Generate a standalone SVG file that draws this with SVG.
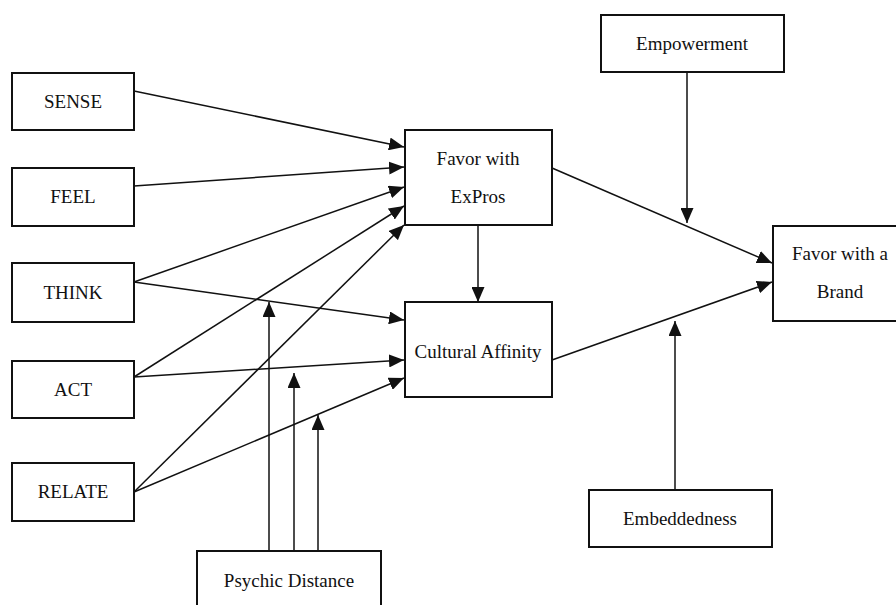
<svg xmlns="http://www.w3.org/2000/svg" width="896" height="605" viewBox="0 0 896 605">
<style>
.box{fill:#fff;stroke:#111;stroke-width:2}
.lbl{font-family:'Liberation Serif','DejaVu Serif',serif;font-size:19px;fill:#111;text-anchor:middle}
.con line{stroke:#111;stroke-width:1.5;fill:none}
.arr{marker-end:url(#ah)}
</style>
<defs>
<marker id="ah" markerUnits="userSpaceOnUse" markerWidth="15" markerHeight="13" refX="15" refY="6.5" orient="auto">
<path d="M0,0 L15,6.5 L0,13 z" fill="#111"/>
</marker>
</defs>
<rect width="896" height="605" fill="#fff"/>
<g class="con">
<line class="arr" x1="134" y1="91" x2="404" y2="147"/>
<line class="arr" x1="134" y1="186" x2="404" y2="167"/>
<line class="arr" x1="134" y1="282" x2="404" y2="187"/>
<line class="arr" x1="134" y1="377" x2="404" y2="206"/>
<line class="arr" x1="134" y1="492" x2="404" y2="225"/>
<line class="arr" x1="134" y1="282" x2="404" y2="320"/>
<line class="arr" x1="134" y1="377" x2="404" y2="360"/>
<line class="arr" x1="134" y1="492" x2="404" y2="378"/>
<line class="arr" x1="478" y1="225" x2="478" y2="302"/>
<line class="arr" x1="552" y1="168" x2="772" y2="263"/>
<line class="arr" x1="552" y1="360" x2="772" y2="282"/>
<line class="arr" x1="687" y1="72" x2="687" y2="223"/>
<line class="arr" x1="675" y1="490" x2="675" y2="321"/>
<line class="arr" x1="269" y1="551" x2="269" y2="302"/>
<line class="arr" x1="294" y1="551" x2="294" y2="373"/>
<line class="arr" x1="318" y1="551" x2="318" y2="415"/>
</g>
<g id="sense"><rect class="box" x="12" y="73" width="122" height="57"/><text class="lbl" x="73" y="108">SENSE</text></g>
<g id="feel"><rect class="box" x="12" y="168" width="122" height="58"/><text class="lbl" x="73" y="203">FEEL</text></g>
<g id="think"><rect class="box" x="12" y="263" width="122" height="59"/><text class="lbl" x="73" y="299">THINK</text></g>
<g id="act"><rect class="box" x="12" y="361" width="122" height="57"/><text class="lbl" x="73" y="396">ACT</text></g>
<g id="relate"><rect class="box" x="12" y="463" width="122" height="58"/><text class="lbl" x="73" y="498">RELATE</text></g>
<g id="favor-expros"><rect class="box" x="405" y="130" width="147" height="95"/><text class="lbl" x="478" y="165">Favor with</text><text class="lbl" x="478" y="203">ExPros</text></g>
<g id="cultural-affinity"><rect class="box" x="405" y="302" width="147" height="95"/><text class="lbl" x="478" y="358">Cultural Affinity</text></g>
<g id="empowerment"><rect class="box" x="601" y="15" width="183" height="57"/><text class="lbl" x="692" y="50">Empowerment</text></g>
<g id="favor-brand"><rect class="box" x="773" y="226" width="140" height="95"/><text class="lbl" x="840" y="260">Favor with a</text><text class="lbl" x="840" y="298">Brand</text></g>
<g id="embeddedness"><rect class="box" x="589" y="490" width="183" height="57"/><text class="lbl" x="680" y="525">Embeddedness</text></g>
<g id="psychic-distance"><rect class="box" x="197" y="551" width="184" height="60"/><text class="lbl" x="289" y="587">Psychic Distance</text></g>
</svg>
